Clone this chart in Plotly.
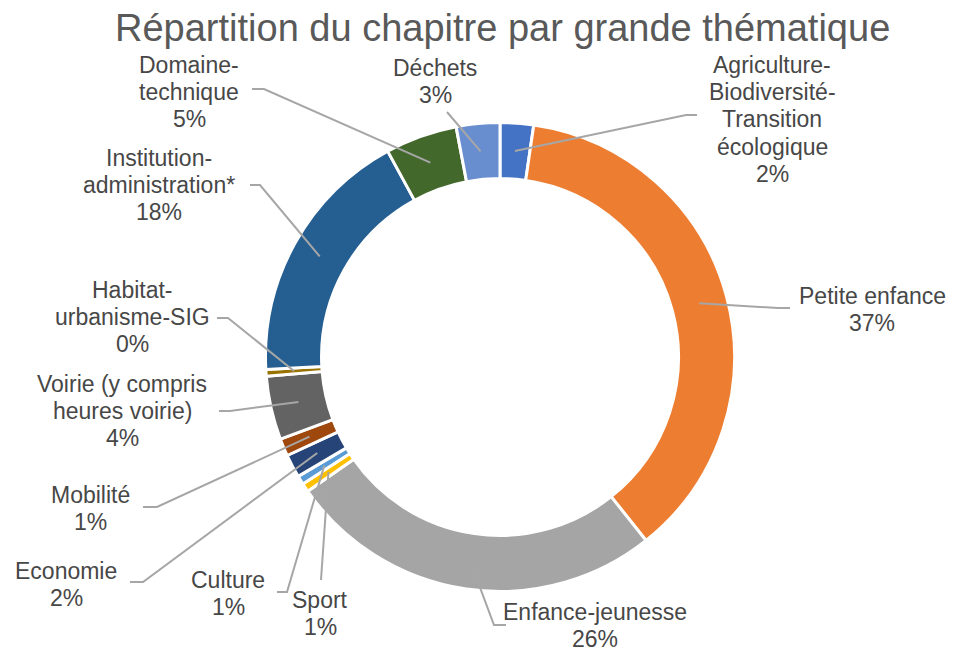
import math
import plotly.graph_objects as go

# ---- data ----
categories = ["Agriculture-Biodiversité-Transition écologique", "Petite enfance",
              "Enfance-jeunesse", "Sport", "Culture", "Economie", "Mobilité",
              "Voirie (y compris heures voirie)", "Habitat-urbanisme-SIG",
              "Institution-administration*", "Domaine-technique", "Déchets"]
values = [2.3, 37.0, 26.0, 0.6, 0.6, 1.6, 1.2, 4.4, 0.45, 17.9, 4.95, 3.0]
label_lines = [["Agriculture-", "Biodiversité-", "Transition", "écologique"],
               ["Petite enfance"], ["Enfance-jeunesse"], ["Sport"], ["Culture"],
               ["Economie"], ["Mobilité"], ["Voirie (y compris", "heures voirie)"],
               ["Habitat-", "urbanisme-SIG"], ["Institution-", "administration*"],
               ["Domaine-", "technique"], ["Déchets"]]
colors = ["#4472C4", "#ED7D31", "#A5A5A5", "#FFC000", "#5B9BD5", "#264478",
          "#9E480E", "#636363", "#997300", "#255E91", "#43682B", "#698ED0"]
title = "Répartition du chapitre par grande thématique"

# ---- layout (page pixels; the page body has an 8px margin) ----
OFF = 8
W, H = 954 - OFF, 651 - OFF
CX, CY, R = 500, 357, 234.5
HOLE = 0.761
RM = R * (1 + HOLE) / 2
# label block centre x, first line y
label_pos = [(772, 65), (872, 296), (595, 612), (320, 600), (228, 580), (66, 571),
             (90, 495), (122, 384), (132, 290), (159, 158), (189, 65), (435, 68)]
# leader line elbow and end points
leader = [((686, 115), (697, 115)), ((778, 308), (790, 308)), ((494, 625), (506, 625)),
          ((321, 580), (321, 580)), ((287, 592), (277, 592)), ((143, 582), (130, 582)),
          ((157, 507), (143, 507)), ((230, 411), (219, 411)), ((228, 318), (217, 318)),
          ((260, 185), (250, 185)), ((264, 89), (252, 89)), ((447, 112), (447, 112))]
LINE_H = 27.2
FONT = "Liberation Sans, Arial, sans-serif"


def px(x):
    return (x - OFF) / W


def py(y):
    return 1 - (y - OFF) / H


fig = go.Figure(go.Pie(
    labels=categories, values=values, sort=False, direction="clockwise", rotation=0,
    hole=HOLE, marker=dict(colors=colors, line=dict(color="white", width=3)),
    textinfo="none", hoverinfo="label+percent", showlegend=False,
    domain=dict(x=[px(CX - R), px(CX + R)], y=[py(CY + R), py(CY - R)]),
))

total = sum(values)
shapes = []
annotations = []
cum = 0.0
for i, v in enumerate(values):
    theta = 2 * math.pi * (cum + v / 2) / total
    cum += v
    ax_ = CX + RM * math.sin(theta)
    ay_ = CY - RM * math.cos(theta)
    (ex, ey), (fx, fy) = leader[i]
    shapes.append(dict(type="path", xref="paper", yref="paper",
                       path=f"M {px(ax_)},{py(ay_)} L {px(ex)},{py(ey)} L {px(fx)},{py(fy)}",
                       line=dict(color="#A6A6A6", width=2)))
    lines = label_lines[i] + [f"{round(v / total * 100)}%"]
    lx, ly = label_pos[i]
    for k, t in enumerate(lines):
        annotations.append(dict(x=px(lx), y=py(ly + k * LINE_H), xref="paper", yref="paper",
                                text=t, showarrow=False, xanchor="center", yanchor="middle",
                                font=dict(family=FONT, size=23, color="#474747")))

annotations.append(dict(x=px(502), y=py(28), xref="paper", yref="paper", text=title,
                        showarrow=False, xanchor="center", yanchor="middle",
                        font=dict(family=FONT, size=38, color="#595959")))

fig.update_layout(width=W, height=H, margin=dict(l=0, r=0, t=0, b=0),
                  paper_bgcolor="white", plot_bgcolor="white",
                  shapes=shapes, annotations=annotations)

fig.write_html("out.html")
